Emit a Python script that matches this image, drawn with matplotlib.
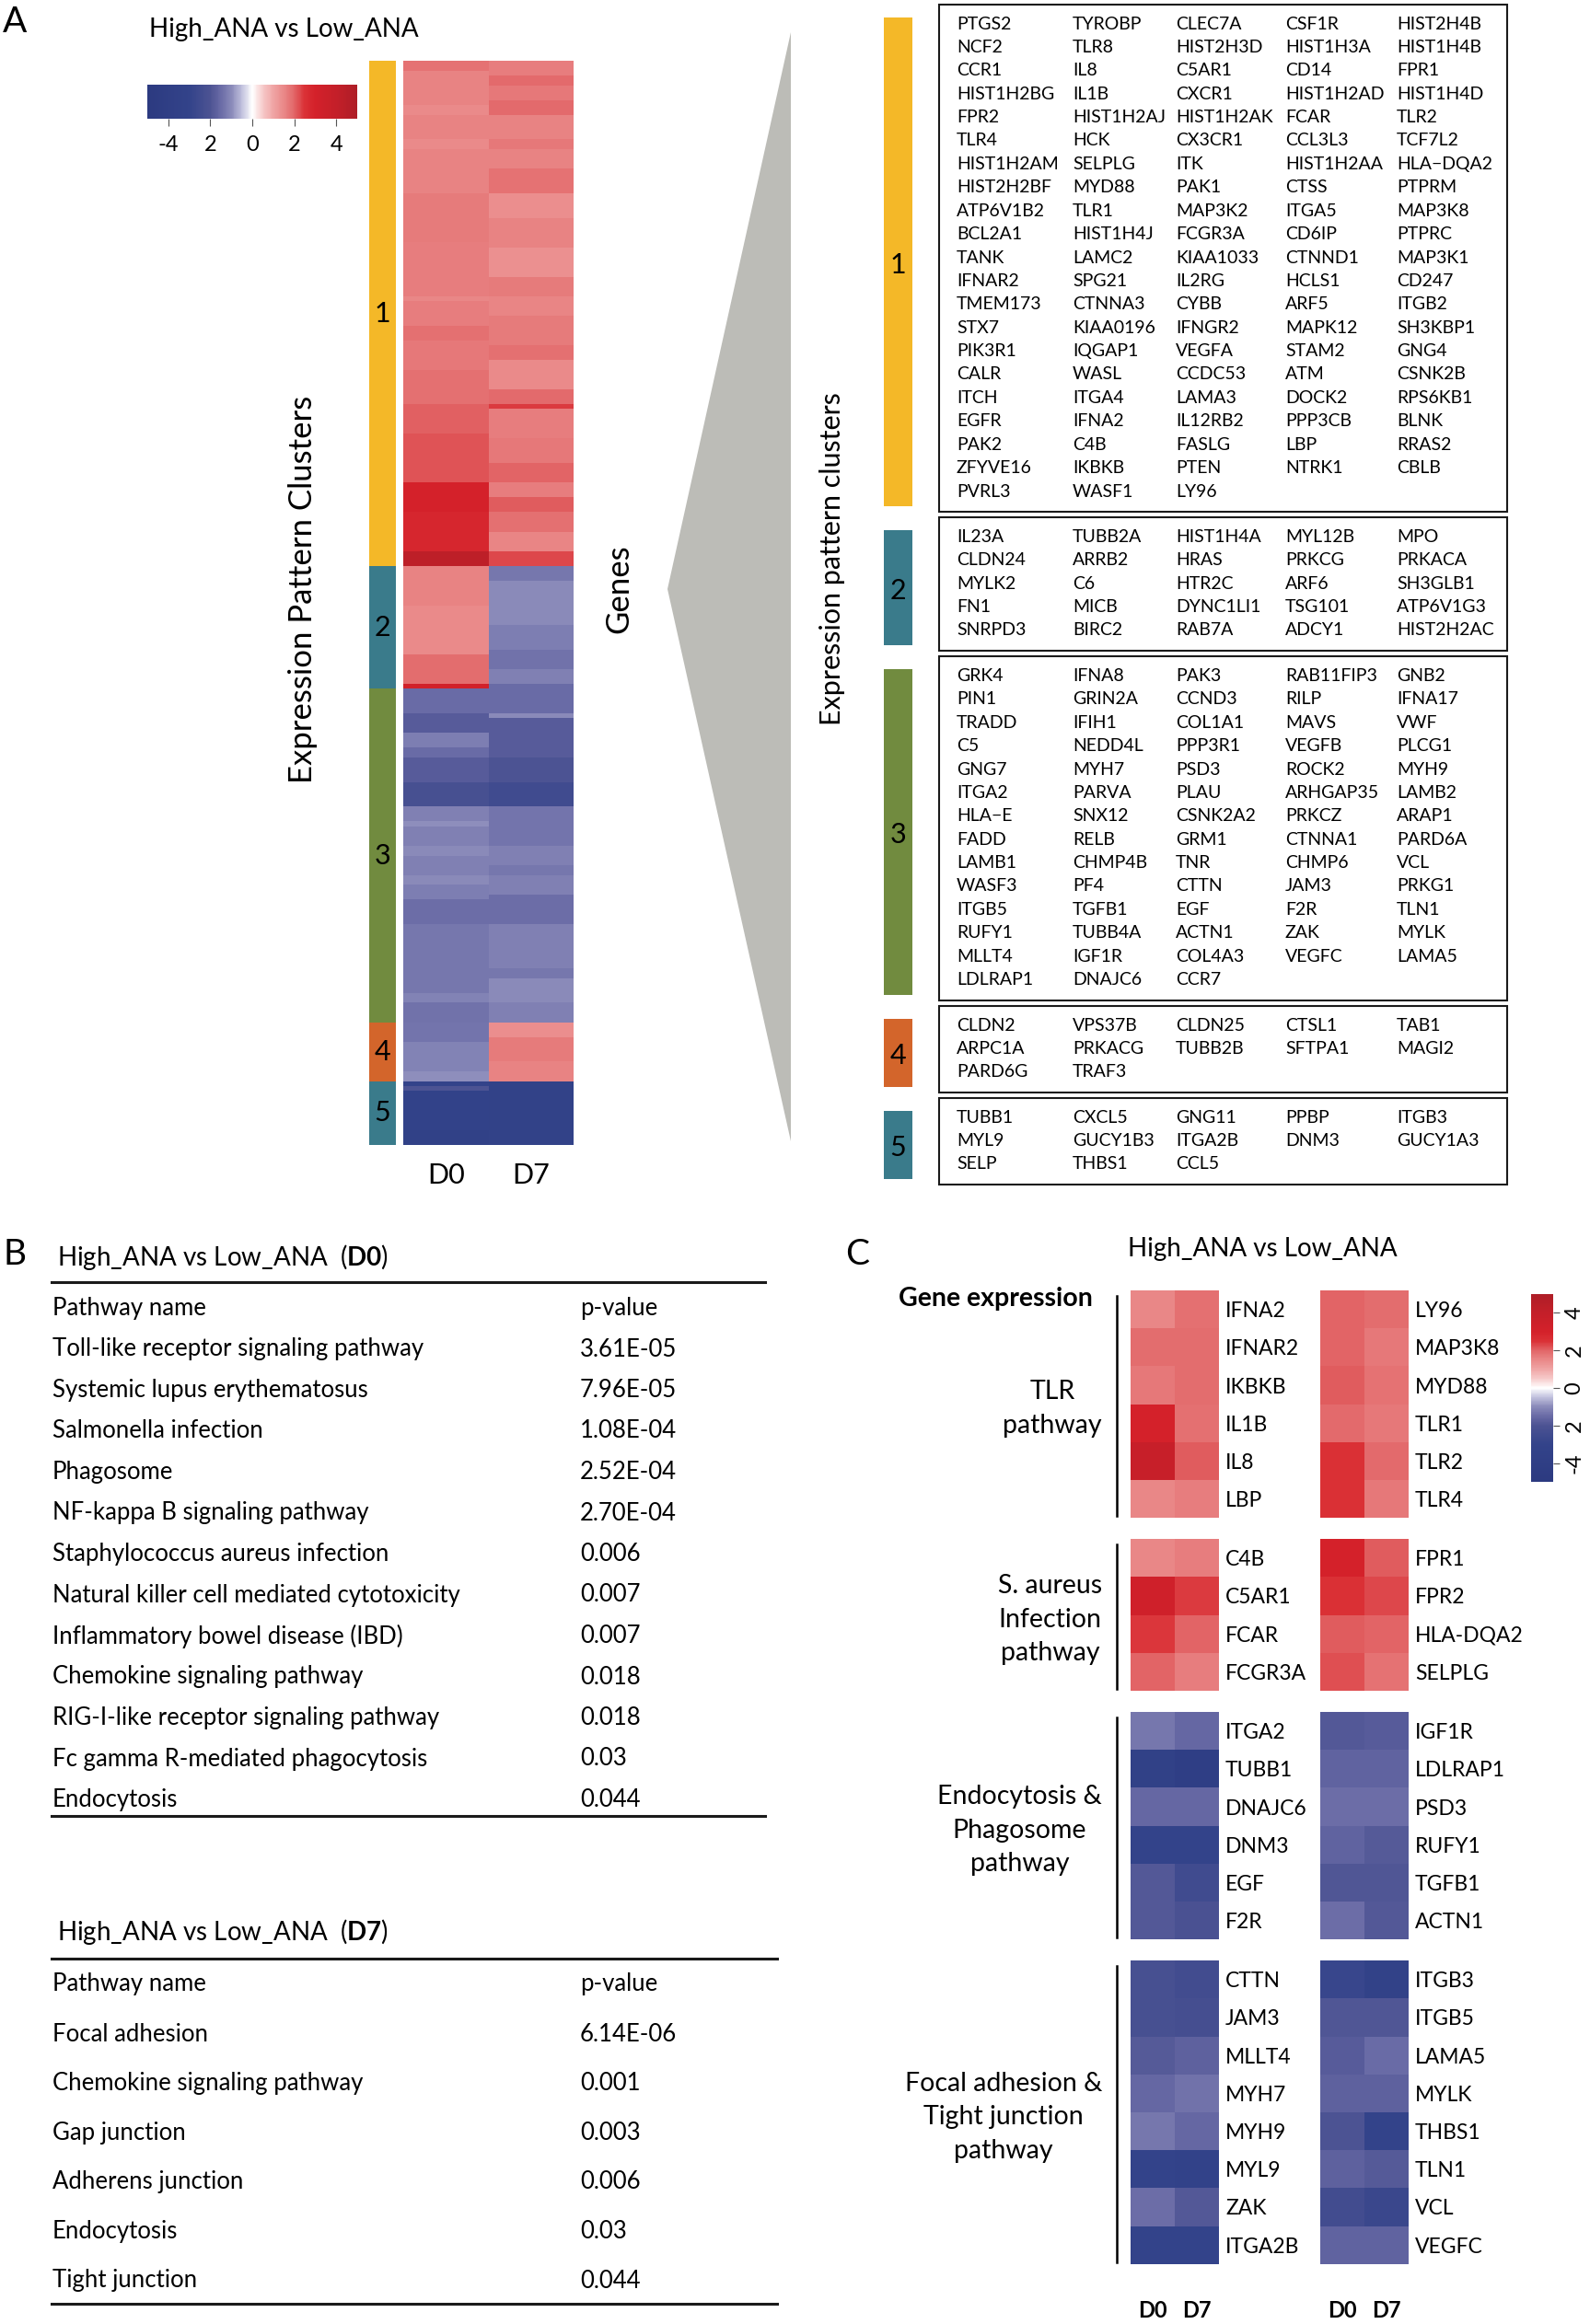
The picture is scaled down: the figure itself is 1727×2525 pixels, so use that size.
import numpy as np
import matplotlib
matplotlib.use("Agg")
import matplotlib.pyplot as plt
from matplotlib import font_manager
from matplotlib.colors import LinearSegmentedColormap, Normalize
from matplotlib.cm import ScalarMappable
from matplotlib.patches import Rectangle, Polygon

plt.rcParams['font.family'] = ['Lato', 'DejaVu Sans']
plt.rcParams['mathtext.fontset'] = 'custom'
plt.rcParams['mathtext.rm'] = 'Lato'
plt.rcParams['mathtext.bf'] = 'Lato:bold'

# narrow face for the gene lists if one is installed
installed = {f.name for f in font_manager.fontManager.ttflist}
if "Liberation Sans Narrow" in installed:
    box_font, box_size = ["Liberation Sans Narrow", "DejaVu Sans"], 15.5
else:
    box_font, box_size = ["Lato", "DejaVu Sans"], 14

# ---------------- data ----------------
# panel A : genes of each expression pattern cluster (row-major, 5 per row)
genes_c1 = ["PTGS2", "TYROBP", "CLEC7A", "CSF1R", "HIST2H4B",
            "NCF2", "TLR8", "HIST2H3D", "HIST1H3A", "HIST1H4B",
            "CCR1", "IL8", "C5AR1", "CD14", "FPR1",
            "HIST1H2BG", "IL1B", "CXCR1", "HIST1H2AD", "HIST1H4D",
            "FPR2", "HIST1H2AJ", "HIST1H2AK", "FCAR", "TLR2",
            "TLR4", "HCK", "CX3CR1", "CCL3L3", "TCF7L2",
            "HIST1H2AM", "SELPLG", "ITK", "HIST1H2AA", "HLA\u2212DQA2",
            "HIST2H2BF", "MYD88", "PAK1", "CTSS", "PTPRM",
            "ATP6V1B2", "TLR1", "MAP3K2", "ITGA5", "MAP3K8",
            "BCL2A1", "HIST1H4J", "FCGR3A", "CD6IP", "PTPRC",
            "TANK", "LAMC2", "KIAA1033", "CTNND1", "MAP3K1",
            "IFNAR2", "SPG21", "IL2RG", "HCLS1", "CD247",
            "TMEM173", "CTNNA3", "CYBB", "ARF5", "ITGB2",
            "STX7", "KIAA0196", "IFNGR2", "MAPK12", "SH3KBP1",
            "PIK3R1", "IQGAP1", "VEGFA", "STAM2", "GNG4",
            "CALR", "WASL", "CCDC53", "ATM", "CSNK2B",
            "ITCH", "ITGA4", "LAMA3", "DOCK2", "RPS6KB1",
            "EGFR", "IFNA2", "IL12RB2", "PPP3CB", "BLNK",
            "PAK2", "C4B", "FASLG", "LBP", "RRAS2",
            "ZFYVE16", "IKBKB", "PTEN", "NTRK1", "CBLB",
            "PVRL3", "WASF1", "LY96"]
genes_c2 = ["IL23A", "TUBB2A", "HIST1H4A", "MYL12B", "MPO",
            "CLDN24", "ARRB2", "HRAS", "PRKCG", "PRKACA",
            "MYLK2", "C6", "HTR2C", "ARF6", "SH3GLB1",
            "FN1", "MICB", "DYNC1LI1", "TSG101", "ATP6V1G3",
            "SNRPD3", "BIRC2", "RAB7A", "ADCY1", "HIST2H2AC"]
genes_c3 = ["GRK4", "IFNA8", "PAK3", "RAB11FIP3", "GNB2",
            "PIN1", "GRIN2A", "CCND3", "RILP", "IFNA17",
            "TRADD", "IFIH1", "COL1A1", "MAVS", "VWF",
            "C5", "NEDD4L", "PPP3R1", "VEGFB", "PLCG1",
            "GNG7", "MYH7", "PSD3", "ROCK2", "MYH9",
            "ITGA2", "PARVA", "PLAU", "ARHGAP35", "LAMB2",
            "HLA\u2212E", "SNX12", "CSNK2A2", "PRKCZ", "ARAP1",
            "FADD", "RELB", "GRM1", "CTNNA1", "PARD6A",
            "LAMB1", "CHMP4B", "TNR", "CHMP6", "VCL",
            "WASF3", "PF4", "CTTN", "JAM3", "PRKG1",
            "ITGB5", "TGFB1", "EGF", "F2R", "TLN1",
            "RUFY1", "TUBB4A", "ACTN1", "ZAK", "MYLK",
            "MLLT4", "IGF1R", "COL4A3", "VEGFC", "LAMA5",
            "LDLRAP1", "DNAJC6", "CCR7"]
genes_c4 = ["CLDN2", "VPS37B", "CLDN25", "CTSL1", "TAB1",
            "ARPC1A", "PRKACG", "TUBB2B", "SFTPA1", "MAGI2",
            "PARD6G", "TRAF3"]
genes_c5 = ["TUBB1", "CXCL5", "GNG11", "PPBP", "ITGB3",
            "MYL9", "GUCY1B3", "ITGA2B", "DNM3", "GUCY1A3",
            "SELP", "THBS1", "CCL5"]
cluster_genes = [genes_c1, genes_c2, genes_c3, genes_c4, genes_c5]
cluster_colors = ["#F4B828", "#3A7B8B", "#718B3F", "#D3652B", "#3A7B8B"]

d0_c1 = [(1.8, 2), (1.6, 7), (1.45, 2), (1.6, 5), (1.45, 2), (1.6, 9), (1.7, 10), (1.65, 5),
         (1.65, 6), (1.5, 1), (1.65, 5), (1.85, 3), (1.75, 6), (1.85, 7), (2.05, 6), (2.15, 10),
         (3.0, 6), (2.85, 8), (4.3, 3)]
d7_c1 = [(1.65, 3), (1.95, 2), (1.75, 3), (1.95, 3), (1.6, 5), (1.75, 2), (1.6, 4), (1.8, 5),
         (1.4, 5), (1.6, 6), (1.35, 6), (1.7, 4), (1.55, 4), (1.7, 6), (1.85, 3), (1.45, 6),
         (1.95, 3), (2.4, 1), (1.65, 6), (1.75, 5), (2.0, 4), (1.65, 3), (2.1, 3), (1.85, 4),
         (1.55, 4), (2.3, 3)]
d0_c2 = [(1.6, 8), (1.45, 10), (1.9, 5), (1.9, 1), (3.2, 1)]
d7_c2 = [(-1.3, 3), (-1.0, 9), (-1.2, 5), (-1.4, 4), (-1.15, 3), (-1.5, 1)]
d0_c3 = [(-1.5, 5), (-1.8, 4), (-1.2, 3), (-1.5, 2), (-1.8, 5), (-2.2, 5), (-1.15, 3),
         (-0.95, 1), (-1.15, 4), (-1.0, 2), (-1.15, 4), (-1.0, 2), (-1.2, 3), (-1.45, 5),
         (-1.3, 14), (-1.1, 2), (-1.4, 4)]
d7_c3 = [(-1.5, 5), (-1.0, 1), (-1.8, 8), (-2.0, 5), (-2.5, 5), (-1.35, 8), (-1.15, 4),
         (-1.3, 2), (-1.15, 4), (-1.45, 6), (-1.15, 9), (-1.3, 2), (-1.0, 5), (-1.15, 4)]
d0_c4 = [(-1.35, 4), (-1.1, 6), (-0.95, 2)]
d7_c4 = [(1.4, 3), (1.7, 5), (1.6, 4)]
d0_c5 = [(-3.0, 1), (-2.0, 1), (-3.2, 8), (-3.5, 3)]
d7_c5 = [(-3.3, 13)]

cbar_ticks = [-4, -2, 0, 2, 4]
cbar_ticklabels = ["-4", "2", "0", "2", "4"]

# panel B : enriched pathways
b_d0_names = ["Toll-like receptor signaling pathway", "Systemic lupus erythematosus",
              "Salmonella infection", "Phagosome", "NF-kappa B signaling pathway",
              "Staphylococcus aureus infection", "Natural killer cell mediated cytotoxicity",
              "Inflammatory bowel disease (IBD)", "Chemokine signaling pathway",
              "RIG-I-like receptor signaling pathway", "Fc gamma R-mediated phagocytosis",
              "Endocytosis"]
b_d0_pvals = ["3.61E-05", "7.96E-05", "1.08E-04", "2.52E-04", "2.70E-04", "0.006",
              "0.007", "0.007", "0.018", "0.018", "0.03", "0.044"]
b_d7_names = ["Focal adhesion", "Chemokine signaling pathway", "Gap junction",
              "Adherens junction", "Endocytosis", "Tight junction"]
b_d7_pvals = ["6.14E-06", "0.001", "0.003", "0.006", "0.03", "0.044"]

# panel C : selected genes per pathway, (D0, D7)
c_groups = ["TLR\npathway", "S. aureus\nInfection\npathway",
            "Endocytosis &\nPhagosome\npathway", "Focal adhesion &\nTight junction\npathway"]
c_left_genes = [["IFNA2", "IFNAR2", "IKBKB", "IL1B", "IL8", "LBP"],
                ["C4B", "C5AR1", "FCAR", "FCGR3A"],
                ["ITGA2", "TUBB1", "DNAJC6", "DNM3", "EGF", "F2R"],
                ["CTTN", "JAM3", "MLLT4", "MYH7", "MYH9", "MYL9", "ZAK", "ITGA2B"]]
c_left_vals = [[(1.5, 1.85), (1.9, 1.9), (1.75, 1.9), (3.0, 1.85), (3.8, 2.1), (1.5, 1.65)],
               [(1.5, 1.65), (3.3, 2.4), (2.45, 2.0), (2.0, 1.65)],
               [(-1.3, -1.6), (-3.5, -4.0), (-1.6, -1.6), (-3.0, -3.0), (-1.9, -2.5), (-1.9, -2.1)],
               [(-2.2, -2.4), (-2.2, -2.3), (-1.85, -1.7), (-1.6, -1.4), (-1.3, -1.6),
                (-3.0, -3.2), (-1.45, -1.9), (-3.0, -3.0)]]
c_right_genes = [["LY96", "MAP3K8", "MYD88", "TLR1", "TLR2", "TLR4"],
                 ["FPR1", "FPR2", "HLA-DQA2", "SELPLG"],
                 ["IGF1R", "LDLRAP1", "PSD3", "RUFY1", "TGFB1", "ACTN1"],
                 ["ITGB3", "ITGB5", "LAMA5", "MYLK", "THBS1", "TLN1", "VCL", "VEGFC"]]
c_right_vals = [[(2.0, 1.9), (2.0, 1.75), (2.1, 1.8), (1.95, 1.75), (2.5, 1.95), (2.5, 1.75)],
                [(3.0, 2.1), (2.5, 2.3), (2.1, 2.0), (2.2, 1.8)],
                [(-1.9, -1.8), (-1.65, -1.65), (-1.45, -1.45), (-1.65, -1.85), (-1.95, -1.95),
                 (-1.45, -1.9)],
                [(-2.8, -3.3), (-1.95, -1.95), (-1.8, -1.5), (-1.7, -1.7), (-2.0, -3.0),
                 (-1.7, -1.85), (-2.4, -2.7), (-1.65, -1.65)]]

# ---------------- colour scale ----------------
cmap_nodes = [(-5, "#2C3A80"), (-3, "#33438A"), (-2, "#4D5393"), (-1.5, "#6A6BA6"),
              (-1, "#8A8AB9"), (-0.5, "#C0C0DD"), (0, "#FFFFFF"), (0.5, "#F6CACA"),
              (1, "#F0A5A5"), (1.6, "#E88282"), (2, "#E26668"), (2.5, "#DA3136"),
              (3, "#D4212A"), (4, "#C41F29"), (5, "#AE1E27")]
cmap = LinearSegmentedColormap.from_list("ana", [((v + 5) / 10, c) for v, c in cmap_nodes])
norm = Normalize(-5, 5)
sm = ScalarMappable(norm=norm, cmap=cmap)

W, H = 1727, 2525
fig = plt.figure(figsize=(W / 100, H / 100), dpi=100)


def px_axes(x0, y0, x1, y1):
    return fig.add_axes([x0 / W, 1 - y1 / H, (x1 - x0) / W, (y1 - y0) / H])


ov = fig.add_axes([0, 0, 1, 1])
ov.set_xlim(0, W)
ov.set_ylim(H, 0)
ov.axis("off")

# ================= panel A =================
ov.text(16, 24, "A", fontsize=28, va="center", ha="center")
ov.text(308, 32, "High_ANA vs Low_ANA", fontsize=20, ha="center", va="center")

cax = px_axes(160, 92, 388, 129)
cb = fig.colorbar(sm, cax=cax, orientation="horizontal", ticks=cbar_ticks)
cb.ax.set_xticklabels(cbar_ticklabels)
cb.outline.set_visible(False)
cb.ax.tick_params(labelsize=17, length=6, color="#555555", pad=7)

d0 = np.concatenate([np.repeat(v, n) for band in [d0_c1, d0_c2, d0_c3, d0_c4, d0_c5] for v, n in band])
d7 = np.concatenate([np.repeat(v, n) for band in [d7_c1, d7_c2, d7_c3, d7_c4, d7_c5] for v, n in band])
n_rows = len(d0)
sizes = np.array([len(g) for g in cluster_genes])
starts = np.concatenate([[0], np.cumsum(sizes)[:-1]])

hm = px_axes(438, 66, 623, 1244)
hm.pcolormesh(np.column_stack([d0, d7]), cmap=cmap, norm=norm)
hm.set_ylim(n_rows, 0)
hm.set_xticks([0.5, 1.5], ["D0", "D7"], fontsize=22)
hm.set_yticks([])
hm.tick_params(length=0, pad=14)
for s in hm.spines.values():
    s.set_visible(False)

cl = px_axes(401, 66, 430, 1244)
cl.bar(0, sizes, bottom=starts, width=1, color=cluster_colors)
cl.set_xlim(-0.5, 0.5)
cl.set_ylim(n_rows, 0)
cl.axis("off")
for i in range(len(sizes)):
    cl.text(0, starts[i] + sizes[i] / 2, str(i + 1), ha="center", va="center", fontsize=22)

ov.text(329, 640, "Expression Pattern Clusters", rotation=90, fontsize=25, ha="center", va="center")
ov.text(672, 640, "Genes", rotation=90, fontsize=25, ha="center", va="center")
ov.add_patch(Polygon([(725, 640), (859, 35), (859, 1240)], closed=True,
                     facecolor="#BCBCB7", edgecolor="none"))
ov.text(904, 607, "Expression pattern clusters", rotation=90, fontsize=22, ha="center", va="center")

# gene boxes
col_x = [1039, 1165, 1277, 1396, 1517]
row_h = 25.4
top = 5
for k, genes in enumerate(cluster_genes):
    nr = int(np.ceil(len(genes) / 5))
    bh = nr * row_h + 18
    ov.add_patch(Rectangle((1020, top), 617, bh, fill=False, edgecolor="#1a1a1a", lw=1.5))
    ov.add_patch(Rectangle((960, top + 14), 31, bh - 20, facecolor=cluster_colors[k], edgecolor="none"))
    ov.text(975.5, top + 7 + bh / 2, str(k + 1), ha="center", va="center", fontsize=22)
    for j, g in enumerate(genes):
        ov.text(col_x[j % 5], top + 21 + (j // 5) * row_h, g, fontsize=box_size,
                family=box_font, va="center", ha="left")
    top += bh + 6

# ================= panel B =================
ov.text(16, 1363, "B", fontsize=28, va="center", ha="center")


def pathway_table(title, y_title, y_line, x_end, y_head, y_row0, dy, names, pvals, y_bottom):
    ov.text(62, y_title, title, fontsize=20, va="center", ha="left")
    ov.plot([56, x_end], [y_line, y_line], color="#1a1a1a", lw=2.2)
    ov.text(57, y_head, "Pathway name", fontsize=18.5, va="center")
    ov.text(630, y_head, "p-value", fontsize=18.5, va="center")
    for i, (n, p) in enumerate(zip(names, pvals)):
        ov.text(57, y_row0 + i * dy, n, fontsize=18.5, va="center")
        ov.text(630, y_row0 + i * dy, p, fontsize=18.5, va="center")
    ov.plot([56, x_end], [y_bottom, y_bottom], color="#1a1a1a", lw=2.2)


pathway_table(r"High_ANA vs Low_ANA  ($\mathbf{D0}$)", 1366, 1393, 831, 1422, 1466, 44.5,
              b_d0_names, b_d0_pvals, 1973)
pathway_table(r"High_ANA vs Low_ANA  ($\mathbf{D7}$)", 2099, 2128, 844, 2155, 2210, 53.6,
              b_d7_names, b_d7_pvals, 2503)

# ================= panel C =================
ov.text(931, 1363, "C", fontsize=28, va="center", ha="center")
ov.text(1371, 1357, "High_ANA vs Low_ANA", fontsize=20, ha="center", va="center")
ov.text(1187, 1411, "Gene expression", fontsize=20.5, fontweight="bold", ha="right", va="center")

c_row_h = 41.2
top = 1402
for g in range(len(c_groups)):
    n = len(c_left_genes[g])
    h = n * c_row_h
    for (x0, x1), genes, vals in [((1228, 1324), c_left_genes[g], c_left_vals[g]),
                                  ((1434, 1530), c_right_genes[g], c_right_vals[g])]:
        ax = px_axes(x0, top, x1, top + h)
        ax.pcolormesh(np.array(vals), cmap=cmap, norm=norm)
        ax.set_ylim(n, 0)
        ax.set_xticks([])
        ax.yaxis.tick_right()
        ax.set_yticks(np.arange(n) + 0.5, genes, fontsize=16.5)
        ax.tick_params(length=0, pad=5)
        for s in ax.spines.values():
            s.set_visible(False)
    ov.plot([1213, 1213], [top + 6, top + h - 2], color="black", lw=1.8)
    ov.text(1197, top + h / 2 + 5, c_groups[g], fontsize=20.5, ha="right", va="center",
            multialignment="center", linespacing=1.5)
    top += h + 23

for x, lab in zip([1252, 1300, 1458, 1506], ["D0", "D7", "D0", "D7"]):
    ov.text(x, 2510, lab, fontsize=17, fontweight="bold", ha="center", va="center")

cax2 = px_axes(1663, 1406, 1687, 1610)
cb2 = fig.colorbar(sm, cax=cax2, orientation="vertical", ticks=cbar_ticks)
cb2.ax.set_yticklabels(cbar_ticklabels)
cb2.outline.set_visible(False)
cb2.ax.tick_params(labelsize=17, length=5, color="#555555", pad=4)
plt.setp(cb2.ax.get_yticklabels(), rotation=90, va="center")

fig.savefig("out.png", dpi=100)
